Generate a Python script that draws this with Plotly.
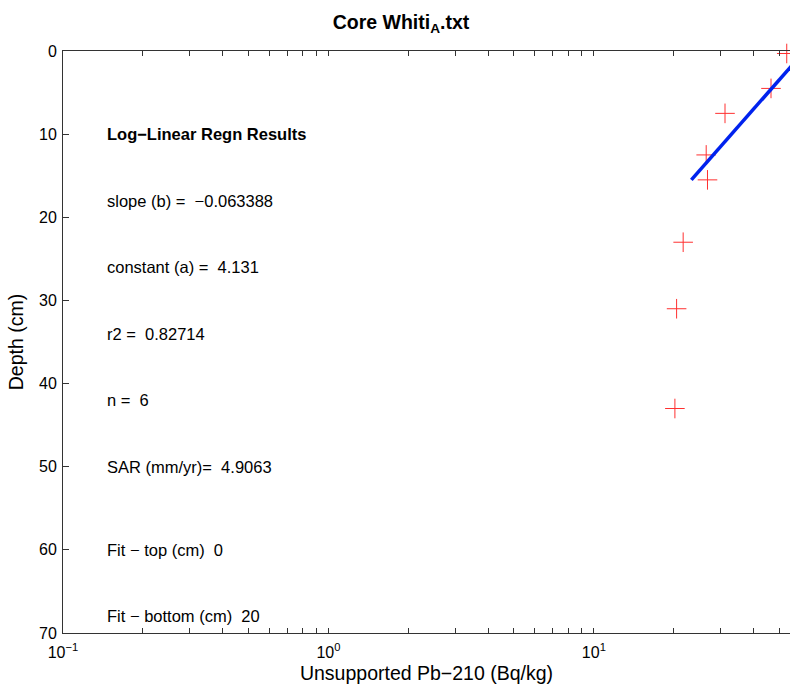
import numpy as np
import plotly.graph_objects as go

# Data
activity = [53.3, 46.5, 31.2, 26.5, 26.8, 21.7, 20.5, 20.2]   # Bq/kg
depth = [0.3, 4.5, 7.5, 12.5, 15.5, 23.0, 31.0, 43.0]          # cm

# Regression results
slope_b = -0.063388
const_a = 4.131
r2 = 0.82714
n_pts = 6
sar = 4.9063
fit_top = 0
fit_bottom = 20
fit_depths = [0.0, 15.5]
fit_activity = [float(np.exp(const_a + slope_b * d)) for d in fit_depths]

text_lines = [
    ("<b>Log−Linear Regn Results</b>", 10),
    ("slope (b) =  −0.063388", 18),
    ("constant (a) =  4.131", 26),
    ("r2 =  0.82714", 34),
    ("n =  6", 42),
    ("SAR (mm/yr)=  4.9063", 50),
    ("Fit − top (cm)  0", 60),
    ("Fit − bottom (cm)  20", 68),
]

x_major = [0.1, 1, 10]
x_major_text = ["10<sup>−1</sup>", "10<sup>0</sup>", "10<sup>1</sup>"]
x_ticks = []
x_text = []
for dec in [0.1, 1, 10]:
    for m in range(1, 10):
        v = dec * m
        if v > 60:
            continue
        x_ticks.append(v)
        x_text.append(x_major_text[x_major.index(dec)] if m == 1 else "")

y_ticks = [0, 10, 20, 30, 40, 50, 60, 70]

FONT = "Liberation Sans, Arial, Helvetica, sans-serif"
W, H = 790, 684

fig = go.Figure()
fig.add_trace(go.Scatter(
    x=activity, y=depth, mode="markers",
    marker=dict(symbol="cross-thin", size=14,
                line=dict(color="#ff3030", width=1), color="#ff3030"),
    cliponaxis=False, showlegend=False,
))
fig.add_trace(go.Scatter(
    x=fit_activity, y=fit_depths, mode="lines",
    line=dict(color="#0022ee", width=3.5), showlegend=False,
))

for txt, d in text_lines:
    fig.add_annotation(x=np.log10(0.144), y=d, xref="x", yref="y", text=txt,
                       showarrow=False, xanchor="left", yanchor="middle",
                       font=dict(family=FONT, size=16.5, color="black"))

fig.update_layout(
    width=W, height=H,
    margin=dict(l=63, r=0, t=51, b=51, autoexpand=False),
    paper_bgcolor="white", plot_bgcolor="white",
    font=dict(family=FONT, size=16, color="black"),
    title=dict(text="<b>Core Whiti<sub>A</sub>.txt</b>", x=(432 - 63) / 727, xanchor="center",
               y=1 - 22 / H, yanchor="middle", yref="container",
               font=dict(family=FONT, size=19.5, color="black")),
)
fig.update_xaxes(
    type="log", range=[-1, 1.739], tickmode="array", tickvals=x_ticks, ticktext=x_text,
    ticks="inside", ticklen=5, tickcolor="#333", showline=True, linecolor="#333",
    linewidth=1, mirror="allticks", showgrid=False, zeroline=False, automargin=False,
    tickfont=dict(size=16), ticklabelstandoff=5,
    title=dict(text="Unsupported Pb−210 (Bq/kg)", font=dict(size=19.5), standoff=6),
)
fig.update_yaxes(
    range=[70, 0], tickmode="array", tickvals=y_ticks, automargin=False,
    ticks="inside", ticklen=6, tickcolor="#333", showline=True, linecolor="#333",
    linewidth=1, mirror=False, showgrid=False, zeroline=False,
    tickfont=dict(size=16), ticklabelstandoff=2,
    title=dict(text="Depth (cm)", font=dict(size=19.5), standoff=10),
)

fig.write_html("out.html",
               config={"displayModeBar": False},
               post_script="document.body.style.margin='0';document.body.style.overflow='hidden';")
